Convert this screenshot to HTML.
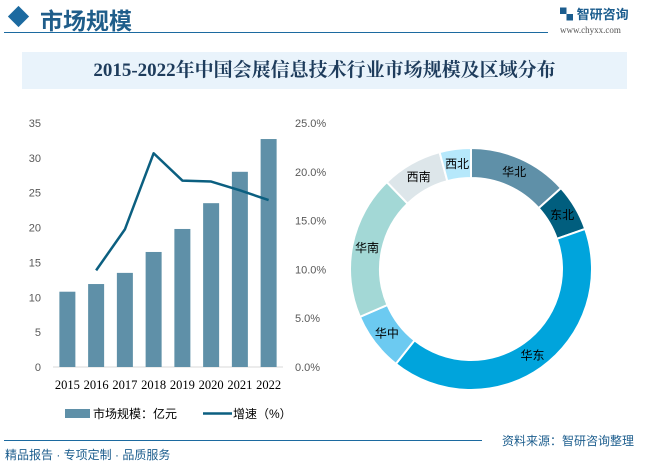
<!DOCTYPE html>
<html><head><meta charset="utf-8">
<style>
body{margin:0;width:655px;height:464px;background:#fff;overflow:hidden;font-family:"Liberation Sans","Noto Sans CJK SC",sans-serif;position:relative}
.abs{position:absolute}
</style></head><body>
<div class="abs" style="left:11px;top:9px;width:15px;height:15px;background:#1c6aa0;transform:rotate(45deg)"></div>
<div class="abs" style="left:40px;top:2px;font-size:23px;font-weight:bold;color:#1f5d8a;font-family:'Noto Sans CJK SC',sans-serif">市场规模</div>
<div class="abs" style="left:4px;top:32px;width:544px;height:1px;background:#1c6aa0"></div>
<div class="abs" style="left:560px;top:4px;font-size:13px;color:#1c5d8e;font-weight:bold">▚ 智研咨询</div>
<div class="abs" style="left:560px;top:25px;font-size:9px;color:#555;font-family:'Liberation Serif',serif">www.chyxx.com</div>
<div class="abs" style="left:22px;top:52px;width:605px;height:37px;background:#e9f3fb;text-align:center;line-height:37px;font-size:19px;font-weight:bold;color:#1e3c5c;font-family:'Liberation Serif','Noto Serif CJK SC',serif">2015-2022年中国会展信息技术行业市场规模及区域分布</div>

<svg class="abs" style="left:0;top:0" width="655" height="464" id="chart"></svg>

<div class="abs" style="left:4px;top:440px;width:478px;height:1px;background:#1c6aa0"></div>
<div class="abs" style="left:5px;top:446px;font-size:12px;color:#1d5e8e">精品报告 · 专项定制 · 品质服务</div>
<div class="abs" style="left:502px;top:432px;font-size:12px;color:#1d5e8e">资料来源：智研咨询整理</div>

<script>
const years=['2015','2016','2017','2018','2019','2020','2021','2022'];
const marketSize=[10.8,11.9,13.5,16.5,19.8,23.5,28.0,32.7];
const growth=[null,9.9,14.1,21.9,19.1,19.0,18.1,17.1];
const leftTicks=[0,5,10,15,20,25,30,35];
const rightTicks=[0,5,10,15,20,25];
const regions=['华北','东北','华东','华中','华南','西南','西北'];
const shares=[13.4,6.3,41.2,7.9,19.3,8.1,4.2];
const regionColors=['#5f90a8','#015e7e','#00a4dc','#6ccaf1','#a3d8d6','#dde6ea','#b6e8fb'];

const NS='http://www.w3.org/2000/svg';
const svg=document.getElementById('chart');
function mk(t,a,p){const e=document.createElementNS(NS,t);for(const k in a)e.setAttribute(k,a[k]);(p||svg).appendChild(e);return e;}
const x0=53,x1=283,y0=367,y1=123;
const yL=v=>y0-(v/35)*(y0-y1);
const yR=v=>y0-(v/25)*(y0-y1);
const step=(x1-x0)/years.length;
const xC=i=>x0+step*(i+0.5);

mk('line',{x1:x0,x2:x1,y1:y0,y2:y0,stroke:'#d9d9d9'});
leftTicks.forEach(t=>{const e=mk('text',{x:41,y:yL(t)+4,'text-anchor':'end','font-size':11,fill:'#595959'});e.textContent=t;

});
rightTicks.forEach(t=>{const e=mk('text',{x:295,y:yR(t)+4,'font-size':11,fill:'#595959'});e.textContent=t.toFixed(1)+'%';

});
years.forEach((y,i)=>{
const b=mk('rect',{x:xC(i)-8,y:yL(marketSize[i]),width:16,height:y0-yL(marketSize[i]),fill:'#5f90a8'});


const t=mk('text',{x:xC(i),y:389,'text-anchor':'middle','font-size':12.5,fill:'#000','font-family':'Liberation Serif,serif'});t.textContent=y;


});
let pts=[];growth.forEach((g,i)=>{if(g!=null)pts.push(xC(i)+','+yR(g));});
const ln=mk('polyline',{points:pts.join(' '),fill:'none',stroke:'#0b5f80','stroke-width':2.5,'stroke-linejoin':'round'});


// legend
const lg=mk('g',{});


mk('rect',{x:65,y:409,width:25,height:9,fill:'#5f90a8'},lg);
let t1=mk('text',{x:93,y:418,'font-size':12,fill:'#000'},lg);t1.textContent='市场规模：亿元';
mk('line',{x1:203,x2:232,y1:413.5,y2:413.5,stroke:'#0b5f80','stroke-width':2.5},lg);
let t2=mk('text',{x:233,y:418,'font-size':12,fill:'#000'},lg);t2.textContent='增速（%）';
// donut
const cx=471,cy=269,R=121,r=91;
const tot=shares.reduce((a,b)=>a+b,0);
let a=0;
shares.forEach((s,i)=>{
const a0=a/tot*2*Math.PI,a1=(a+s)/tot*2*Math.PI;a+=s;
const P=(rad,ang)=>[cx+rad*Math.sin(ang),cy-rad*Math.cos(ang)];
const lg1=(a1-a0)>Math.PI?1:0;
const [ax,ay]=P(R,a0),[bx,by]=P(R,a1),[cx2,cy2]=P(r,a1),[dx,dy]=P(r,a0);
const p=mk('path',{d:`M${ax},${ay}A${R},${R} 0 ${lg1} 1 ${bx},${by}L${cx2},${cy2}A${r},${r} 0 ${lg1} 0 ${dx},${dy}Z`,fill:regionColors[i],stroke:'#fff','stroke-width':2});


const m=(a0+a1)/2,[lx,ly]=P((R+r)/2,m);
const t=mk('text',{x:lx,y:ly+4,'text-anchor':'middle','font-size':12,fill:'#000'});t.textContent=regions[i];


});
</script>
</body></html>
